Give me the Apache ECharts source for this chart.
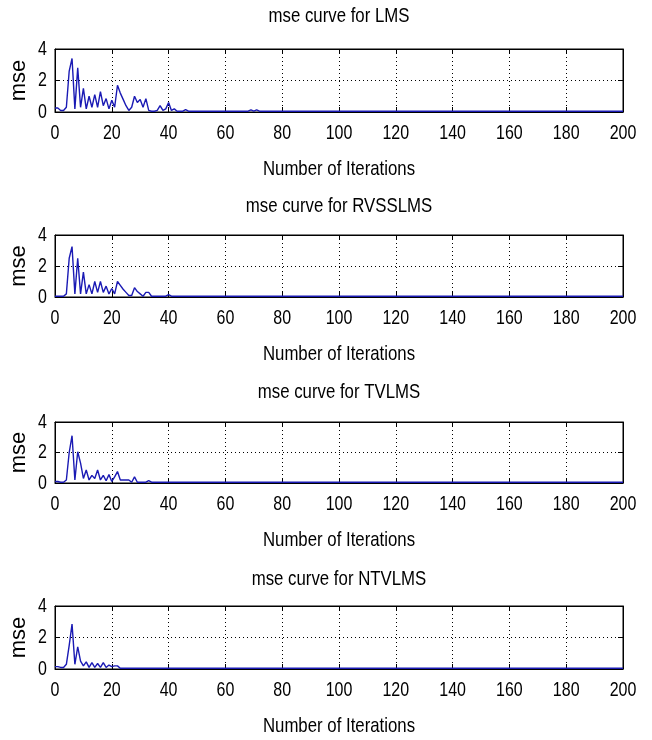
<!DOCTYPE html>
<html>
<head>
<meta charset="utf-8">
<title>mse curves</title>
<script src="https://cdn.jsdelivr.net/npm/echarts@6/dist/echarts.min.js"></script>
<style>
  html, body { margin: 0; padding: 0; background: #ffffff; }
  #chart { width: 652px; height: 740px; }
</style>
</head>
<body>
<div id="chart"></div>
<script>
// Axis ranges and tick labels shared by all four panels
const xTickLabels = [0, 20, 40, 60, 80, 100, 120, 140, 160, 180, 200];
const yTickLabels = [0, 2, 4];

// Panel titles and axis names
const panelTitles = ['mse curve for LMS', 'mse curve for RVSSLMS', 'mse curve for TVLMS', 'mse curve for NTVLMS'];
const xAxisName = 'Number of Iterations';
const yAxisName = 'mse';

// mse per iteration (iterations 0, 1, 2, ...) during the transient
const lmsMse = [0.25, 0.25, 0.1, 0.1, 0.3, 2.6, 3.4, 0.2, 2.8, 0.3, 1.5, 0.2, 1.0, 0.3, 1.1, 0.3,
  1.3, 0.4, 0.85, 0.2, 0.75, 0.3, 1.7, 1.2, 0.8, 0.4, 0.1, 0.3, 1.0, 0.6, 0.8, 0.3,
  0.85, 0.1, 0.05, 0.05, 0.1, 0.4, 0.1, 0.2, 0.6, 0.1, 0.2, 0.05, 0.05, 0.05, 0.15, 0.05];
const rvsslmsMse = [0.05, 0.05, 0.05, 0.05, 0.2, 2.5, 3.25, 0.2, 2.5, 0.2, 1.6, 0.2, 0.8, 0.2, 1.0, 0.3,
  1.0, 0.3, 0.7, 0.2, 0.55, 0.2, 1.0, 0.75, 0.5, 0.3, 0.1, 0.1, 0.6, 0.35, 0.2, 0.05,
  0.3, 0.3, 0.05, 0.05, 0.05, 0.05, 0.05, 0.05, 0.15, 0.05];
const tvlmsMse = [0.1, 0.1, 0.05, 0.05, 0.2, 2.0, 3.1, 0.2, 2.05, 1.3, 0.3, 0.85, 0.2, 0.5, 0.3, 0.85,
  0.2, 0.5, 0.15, 0.55, 0.1, 0.4, 0.75, 0.2, 0.2, 0.2, 0.2, 0.05, 0.4, 0.05, 0.05, 0.05,
  0.05, 0.15, 0.05];
const ntvlmsMse = [0.15, 0.15, 0.1, 0.1, 0.3, 1.5, 2.85, 0.3, 1.4, 0.5, 0.2, 0.45, 0.1, 0.4, 0.1, 0.35,
  0.1, 0.4, 0.1, 0.25, 0.15, 0.2, 0.2, 0.05];

// Steady-state part: [iteration, mse] points after the transient
const lmsTail = [[68, 0.05], [69, 0.14], [70, 0.05], [71, 0.14], [72, 0.05], [200, 0.05]];
const rvsslmsTail = [[200, 0.05]];
const tvlmsTail = [[200, 0.05]];
const ntvlmsTail = [[200, 0.05]];

const panelSeries = [
  { dense: lmsMse, tail: lmsTail },
  { dense: rvsslmsMse, tail: rvsslmsTail },
  { dense: tvlmsMse, tail: tvlmsTail },
  { dense: ntvlmsMse, tail: ntvlmsTail }
];

// Layout of the four stacked axes boxes
const gridTops = [49, 235, 422, 606];
const gridHeights = [63, 62, 61, 63];
const titleCenters = [16, 206, 392, 579];
const gridLeft = 55, gridRight = 29;
const plotCenterX = gridLeft + (652 - gridLeft - gridRight) / 2;

// Tall, condensed lettering: a sans face squeezed horizontally
const sans = '"Liberation Sans", Arial, sans-serif';
const squeeze = 0.8;
const lineColor = '#1a1ab4';

const grids = [], xAxes = [], yAxes = [], series = [];

function boxAxis(k, dim, position, withGrid) {
  const ticks = dim === 'x' ? xTickLabels : yTickLabels;
  return {
    gridIndex: k, type: 'value', min: ticks[0], max: ticks[ticks.length - 1],
    interval: ticks[1] - ticks[0], position: position,
    axisLine: { show: true, onZero: false, lineStyle: { color: '#000', width: 1 } },
    axisTick: { show: true, inside: true, length: 5, lineStyle: { color: '#000' } },
    axisLabel: { show: false },
    splitLine: { show: withGrid, lineStyle: { color: '#000', type: [1, 3], width: 1 } }
  };
}

panelSeries.forEach((p, k) => {
  grids.push({
    left: gridLeft, right: gridRight, top: gridTops[k], height: gridHeights[k],
    show: true, borderColor: '#000', borderWidth: 1, backgroundColor: '#fff'
  });
  xAxes.push(boxAxis(k, 'x', 'bottom', true));
  xAxes.push(boxAxis(k, 'x', 'top', false));
  yAxes.push(boxAxis(k, 'y', 'left', true));
  yAxes.push(boxAxis(k, 'y', 'right', false));
  const data = p.dense.map((v, i) => [i, v]).concat(p.tail);
  series.push({
    type: 'line', xAxisIndex: 2 * k, yAxisIndex: 2 * k, data: data,
    showSymbol: false, symbol: 'none', animation: false, clip: true,
    lineStyle: { color: lineColor, width: 1.4 }, z: 3
  });
});

const chart = echarts.init(document.getElementById('chart'), null, { renderer: 'canvas' });
chart.setOption({
  backgroundColor: '#fff',
  animation: false,
  grid: grids,
  xAxis: xAxes,
  yAxis: yAxes,
  series: series
});

// Text: tick labels placed through each panel's axes, plus titles and axis names
function label(text, x, y, size, align, extra) {
  return Object.assign({
    type: 'text', x: x, y: y, scaleX: squeeze, silent: true, z: 10,
    style: { text: text, fontSize: size, fontFamily: sans, fill: '#000',
      align: align, verticalAlign: 'middle' }
  }, extra || {});
}

const texts = [];
panelSeries.forEach((p, k) => {
  const bottom = gridTops[k] + gridHeights[k];
  xTickLabels.forEach(v => {
    const px = chart.convertToPixel({ xAxisIndex: 2 * k, yAxisIndex: 2 * k }, [v, 0]);
    texts.push(label(String(v), px[0], px[1] + 21, 20, 'center'));
  });
  yTickLabels.forEach(v => {
    const px = chart.convertToPixel({ xAxisIndex: 2 * k, yAxisIndex: 2 * k }, [0, v]);
    texts.push(label(String(v), px[0] - 8, px[1], 20, 'right'));
  });
  texts.push(label(panelTitles[k], plotCenterX, titleCenters[k], 21, 'center'));
  texts.push(label(xAxisName, plotCenterX, bottom + 57, 21, 'center'));
  texts.push(label(yAxisName, 19, gridTops[k] + gridHeights[k] / 2, 22, 'center',
    { scaleX: 1, rotation: Math.PI / 2 }));
});
chart.setOption({ graphic: texts });
</script>
</body>
</html>
